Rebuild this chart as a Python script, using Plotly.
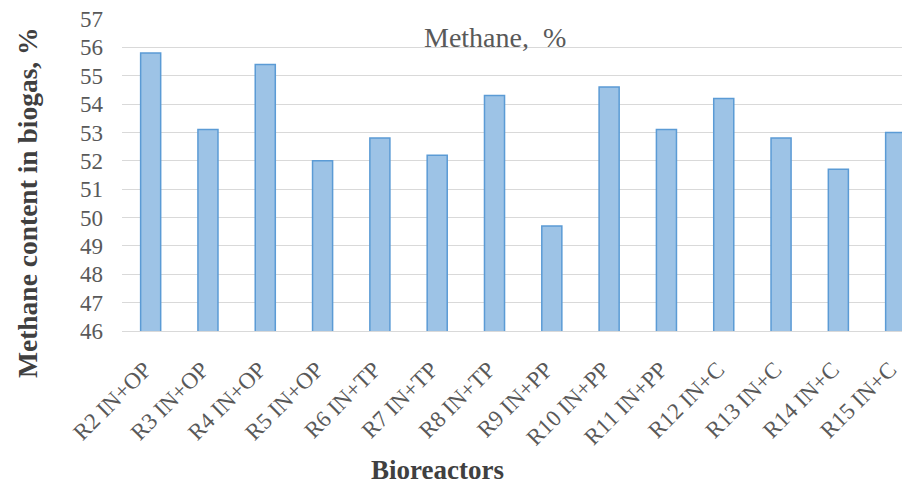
import plotly.graph_objects as go

categories = ["R2 IN+OP", "R3 IN+OP", "R4 IN+OP", "R5 IN+OP", "R6 IN+TP", "R7 IN+TP",
              "R8 IN+TP", "R9 IN+PP", "R10 IN+PP", "R11 IN+PP", "R12 IN+C", "R13 IN+C",
              "R14 IN+C", "R15 IN+C"]
methane = [55.8, 53.1, 55.4, 52.0, 52.8, 52.2, 54.3, 49.7, 54.6, 53.1, 54.2, 52.8, 51.7, 53.0]
y_ticks = list(range(46, 58))

FONT = "Liberation Serif, Times New Roman, serif"
GREY = "#595959"

# page has an 8px body margin; figure occupies window pixels 8..910 x 8..484
OFF = 8
PL, PT, PB = 122, 18, 331          # plot area edges in window pixels
PW = 910 - PL
PH = PB - PT

def px(x):
    return (x - PL) / PW

def py(y):
    return (PB - y) / PH

fig = go.Figure()
fig.add_trace(go.Bar(
    x=list(range(len(categories))), y=methane,
    width=0.35,
    marker=dict(color="#9dc3e6", line=dict(color="#5b9bd5", width=1.5)),
))

fig.update_layout(
    width=910 - OFF, height=484 - OFF,
    margin=dict(l=PL - OFF, r=0, t=PT - OFF, b=484 - PB, autoexpand=False),
    paper_bgcolor="white", plot_bgcolor="white",
    showlegend=False,
    font=dict(family=FONT, color=GREY),
    xaxis=dict(
        range=[-0.5, 13.25],
        tickmode="array", tickvals=list(range(len(categories))), ticktext=categories,
        tickangle=-45, tickfont=dict(size=23, color=GREY, family=FONT),
        showgrid=False, showline=True, linecolor="#d9d9d9", linewidth=1,
        ticks="", ticklabelstandoff=15, ticklabelshift=-6, zeroline=False,
        automargin=False, ticklabeloverflow="allow",
    ),
    yaxis=dict(
        range=[46, 57.035], tickmode="array", tickvals=y_ticks,
        tickfont=dict(size=23, color=GREY, family=FONT),
        showgrid=True, gridcolor="#d9d9d9", gridwidth=1.2,
        zeroline=False, ticks="", ticklabelstandoff=18, automargin=False,
        ticklabeloverflow="allow",
    ),
    annotations=[
        dict(text="Methane,\u00a0 %", x=px(495), y=py(37),
             xref="paper", yref="paper", xanchor="center", yanchor="middle",
             showarrow=False, font=dict(size=28, color=GREY, family=FONT)),
        dict(text="<b>Methane content in biogas, %</b>", x=px(27),
             y=py(203), xref="paper", yref="paper", textangle=-90,
             xanchor="center", yanchor="middle", showarrow=False,
             font=dict(size=27.5, color="#404040", family=FONT)),
        dict(text="<b>Bioreactors</b>", x=px(437), y=py(470),
             xref="paper", yref="paper", xanchor="center", yanchor="middle",
             showarrow=False, font=dict(size=27, color="#404040", family=FONT)),
    ],
)

fig.write_html("out.html")
